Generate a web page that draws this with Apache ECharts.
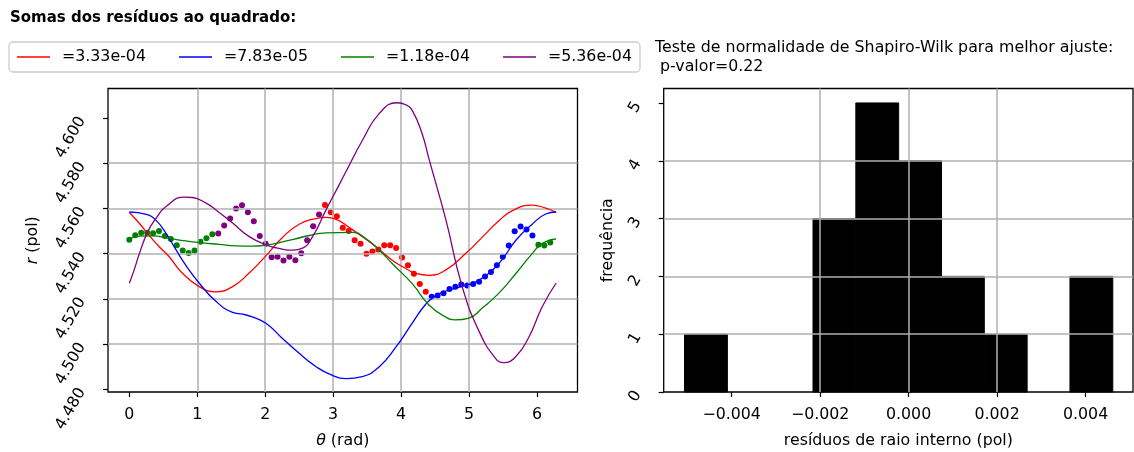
<!DOCTYPE html>
<html><head><meta charset="utf-8">
<script src="https://cdn.jsdelivr.net/npm/echarts@6/dist/echarts.min.js"></script>
<style>html,body{margin:0;padding:0;background:#fff}#c{width:1134px;height:452px}</style>
</head><body><div id="c"></div><script>
// ---------- data ----------
const legendNames = ['=3.33e-04', '=7.83e-05', '=1.18e-04', '=5.36e-04'];

// fitted curves: angle (rad) and radius (pol)
const redTheta = [0, 0.15, 0.29, 0.44, 0.59, 0.76, 1.03, 1.27, 1.52, 1.76, 2.01, 2.25, 2.5, 2.75, 2.89, 3.0, 3.24, 3.63, 3.87, 4.07, 4.22, 4.41, 4.66, 4.95, 5.2, 5.44, 5.64, 5.93, 6.13, 6.2832];
const redR = [4.5582, 4.5533, 4.5481, 4.5430, 4.5385, 4.5320, 4.5254, 4.5231, 4.5254, 4.5313, 4.5390, 4.5470, 4.5530, 4.5555, 4.5560, 4.5556, 4.5515, 4.5430, 4.5371, 4.5334, 4.5312, 4.5304, 4.5328, 4.5400, 4.5474, 4.5545, 4.5590, 4.5614, 4.5601, 4.5582];
const blueTheta = [0, 0.25, 0.39, 0.54, 0.69, 0.83, 1.03, 1.27, 1.52, 1.67, 1.81, 2.01, 2.25, 2.5, 2.75, 2.94, 3.19, 3.43, 3.68, 3.92, 4.17, 4.36, 4.5, 4.71, 4.95, 5.15, 5.44, 5.69, 5.93, 6.13, 6.2832];
const blueR = [4.5584, 4.5573, 4.5548, 4.5489, 4.5415, 4.5349, 4.5269, 4.5190, 4.5140, 4.5132, 4.5120, 4.5092, 4.5026, 4.4959, 4.4900, 4.4868, 4.4847, 4.4856, 4.4900, 4.4985, 4.5095, 4.5175, 4.5212, 4.5239, 4.5260, 4.5283, 4.5356, 4.5459, 4.5530, 4.5575, 4.5584];
const greenTheta = [0, 0.15, 0.34, 0.59, 0.83, 1.08, 1.32, 1.57, 1.81, 2.06, 2.21, 2.4, 2.65, 2.89, 3.28, 3.48, 3.68, 3.87, 4.17, 4.41, 4.66, 4.8, 5.0, 5.2, 5.44, 5.69, 5.93, 6.08, 6.2832];
const greenR = [4.5465, 4.5477, 4.5478, 4.5467, 4.5456, 4.5447, 4.5441, 4.5434, 4.5433, 4.5440, 4.5449, 4.5462, 4.5480, 4.5492, 4.5494, 4.5467, 4.5415, 4.5356, 4.5265, 4.5173, 4.5119, 4.5107, 4.5115, 4.5160, 4.5225, 4.5312, 4.5400, 4.5445, 4.5465];
const purpleTheta = [0, 0.07, 0.15, 0.27, 0.39, 0.54, 0.81, 0.93, 1.13, 1.27, 1.52, 1.76, 2.01, 2.25, 2.4, 2.55, 2.7, 2.89, 3.09, 3.19, 3.43, 3.68, 3.94, 4.07, 4.17, 4.31, 4.41, 4.66, 4.9, 5.15, 5.39, 5.51, 5.69, 5.88, 6.08, 6.2832];
const purpleR = [4.5269, 4.5327, 4.5402, 4.5496, 4.5555, 4.5608, 4.5650, 4.5648, 4.5623, 4.5594, 4.5535, 4.5476, 4.5439, 4.5420, 4.5415, 4.5424, 4.5476, 4.5590, 4.5705, 4.5763, 4.5900, 4.6020, 4.6067, 4.6058, 4.6030, 4.5930, 4.5820, 4.5549, 4.5254, 4.5055, 4.4937, 4.4918, 4.4945, 4.5030, 4.5166, 4.5270];

// measured points (angle in degrees, radius in pol)
const greenPtsDeg = [0, 5, 10, 15, 20, 25, 30, 35, 40, 45, 50, 55, 60, 65, 70, 345, 350, 355];
const greenPtsR = [4.5461, 4.5481, 4.5492, 4.5492, 4.5490, 4.5500, 4.5478, 4.5464, 4.5437, 4.5414, 4.5403, 4.5414, 4.5452, 4.5468, 4.5486, 4.5439, 4.5436, 4.5449];
const purplePtsDeg = [75, 80, 85, 90, 95, 100, 105, 110, 115, 120, 125, 130, 135, 140, 145, 150, 155, 160];
const purplePtsR = [4.5489, 4.5524, 4.5555, 4.5599, 4.5614, 4.5583, 4.5543, 4.5478, 4.5444, 4.5384, 4.5386, 4.5369, 4.5386, 4.5371, 4.5401, 4.5459, 4.5521, 4.5573];
const redPtsDeg = [165, 170, 175, 180, 185, 190, 195, 200, 205, 210, 215, 220, 225, 230, 235, 240, 245, 250];
const redPtsR = [4.5615, 4.5583, 4.5565, 4.5514, 4.5500, 4.5459, 4.5444, 4.5399, 4.5409, 4.5418, 4.5437, 4.5437, 4.5425, 4.5383, 4.5348, 4.5311, 4.5266, 4.5231];
const bluePtsDeg = [255, 260, 265, 270, 275, 280, 285, 290, 295, 300, 305, 310, 315, 320, 325, 330, 335, 340];
const bluePtsR = [4.5209, 4.5215, 4.5225, 4.5243, 4.5253, 4.5263, 4.5259, 4.5266, 4.5275, 4.5299, 4.5319, 4.5349, 4.5386, 4.5436, 4.5499, 4.5520, 4.5506, 4.5480];

// histogram of residuals
const binEdges = [-0.005065, -0.004097, -0.003129, -0.002161, -0.001193, -0.000225, 0.000743, 0.001711, 0.002679, 0.003647, 0.004615];
const binCounts = [1, 0, 0, 3, 5, 4, 2, 1, 0, 2];

const thetaTicks = [0, 1, 2, 3, 4, 5, 6];
const rTicks = [4.48, 4.50, 4.52, 4.54, 4.56, 4.58, 4.60];
const resTicks = [-0.004, -0.002, 0, 0.002, 0.004];
const freqTicks = [0, 1, 2, 3, 4, 5];

// ---------- chart ----------
const FONT = 'DejaVu Sans';
const FS = 15.8;
const GRID_C = '#b0b0b0';
const chart = echarts.init(document.getElementById('c'), null, {renderer: 'canvas'});

const pairs = (xs, ys) => xs.map((x, i) => [x, ys[i]]);
const ptsData = (deg, r) => deg.map((d, i) => [d * Math.PI / 180, r[i]]);

function lineSeries(name, th, r, color) {
  return {
    name, type: 'line', xAxisIndex: 0, yAxisIndex: 0, data: pairs(th, r),
    smooth: 0.5, symbol: 'none', zlevel: 2, z: 4,
    lineStyle: {color, width: 1.3}, itemStyle: {color}
  };
}
function scatterSeries(deg, r, color) {
  return {
    type: 'scatter', xAxisIndex: 0, yAxisIndex: 0, data: ptsData(deg, r),
    symbolSize: 6, zlevel: 0, z: 1, itemStyle: {color, opacity: 1}, silent: true
  };
}
const baseLabel = {color: '#000', fontFamily: FONT, fontSize: FS};
const tickStyle = {show: true, length: 5, lineStyle: {color: '#000', width: 1.2}};
const splitStyle = {show: true, showMinLine: false, showMaxLine: false, lineStyle: {color: GRID_C, width: 1.5}};
const noLine = {show: false, onZero: false};

const option = {
  animation: false,
  backgroundColor: '#fff',
  textStyle: {fontFamily: FONT},
  title: [
    {text: 'Somas dos resíduos ao quadrado:', left: 10, top: 11, padding: 0,
     textStyle: {fontFamily: FONT, fontSize: 15, fontWeight: 'bold', color: '#000'}},
    {text: 'Teste de normalidade de Shapiro-Wilk para melhor ajuste:\n p-valor=0.22', left: 655, top: 38, padding: 0,
     textStyle: {fontFamily: FONT, fontSize: FS, fontWeight: 'normal', color: '#000', lineHeight: 19}}
  ],
  legend: {
    data: legendNames, left: 9, top: 42, orient: 'horizontal', icon: 'rect',
    padding: [6, 8, 6, 8], itemWidth: 33, itemHeight: 1.6, itemGap: 33,
    borderColor: '#cccccc', borderWidth: 1.3, borderRadius: 4, backgroundColor: '#fff',
    textStyle: {fontFamily: FONT, fontSize: FS, color: '#000', width: 84, padding: [0, 0, 0, 7], lineHeight: 18},
    selectedMode: false
  },
  grid: [
    {left: 108, top: 88.5, width: 469.5, height: 303.5, outerBoundsMode: 'none', containLabel: false,
     show: true, borderColor: '#000', borderWidth: 1.3, backgroundColor: 'transparent'},
    {left: 663.7, top: 88.5, width: 469.3, height: 303.5, outerBoundsMode: 'none', containLabel: false,
     show: true, borderColor: '#000', borderWidth: 1.3, backgroundColor: 'transparent'}
  ],
  xAxis: [
    {gridIndex: 0, type: 'value', min: -0.31416, max: 6.59734, splitNumber: 7, zlevel: 1, z: 2,
     axisLine: noLine, axisTick: Object.assign({customValues: thetaTicks}, tickStyle),
     axisLabel: Object.assign({customValues: thetaTicks, margin: 15, formatter: v => String(Math.round(v))}, baseLabel),
     splitLine: splitStyle,
     name: '{i|θ} (rad)', nameLocation: 'middle', nameGap: 41,
     nameTextStyle: {fontFamily: FONT, fontSize: FS, color: '#000', rich: {i: {fontStyle: 'italic', fontFamily: FONT, fontSize: FS, color: '#000'}}}},
    {gridIndex: 1, type: 'value', min: -0.005536, max: 0.005072, splitNumber: 5, zlevel: 1, z: 2,
     axisLine: noLine, axisTick: Object.assign({customValues: resTicks}, tickStyle),
     axisLabel: Object.assign({customValues: resTicks, margin: 15,
       formatter: v => (v < -1e-9 ? '\u2212' : '') + Math.abs(v).toFixed(3)}, baseLabel),
     splitLine: splitStyle,
     name: 'resíduos de raio interno (pol)', nameLocation: 'middle', nameGap: 41,
     nameTextStyle: {fontFamily: FONT, fontSize: FS, color: '#000'}}
  ],
  yAxis: [
    {gridIndex: 0, type: 'value', min: 4.4788, max: 4.6130, splitNumber: 7, zlevel: 1, z: 2,
     axisLine: noLine, axisTick: Object.assign({customValues: rTicks}, tickStyle),
     axisLabel: Object.assign({customValues: rTicks, margin: 26, rotate: 60, formatter: v => v.toFixed(3)}, baseLabel),
     splitLine: splitStyle,
     name: '{i|r} (pol)', nameLocation: 'middle', nameGap: 67, nameRotate: 90,
     nameTextStyle: {fontFamily: FONT, fontSize: FS, color: '#000', rich: {i: {fontStyle: 'italic', fontFamily: FONT, fontSize: FS, color: '#000'}}}},
    {gridIndex: 1, type: 'value', min: 0, max: 5.25, interval: 1, zlevel: 1, z: 2,
     axisLine: noLine, axisTick: Object.assign({customValues: freqTicks}, tickStyle),
     axisLabel: Object.assign({customValues: freqTicks, margin: 26, rotate: 60, formatter: v => String(Math.round(v))}, baseLabel),
     splitLine: splitStyle,
     name: 'frequência', nameLocation: 'middle', nameGap: 48, nameRotate: 90,
     nameTextStyle: {fontFamily: FONT, fontSize: FS, color: '#000'}}
  ],
  series: [
    scatterSeries(greenPtsDeg, greenPtsR, '#008000'),
    scatterSeries(purplePtsDeg, purplePtsR, '#800080'),
    scatterSeries(redPtsDeg, redPtsR, '#ff0000'),
    scatterSeries(bluePtsDeg, bluePtsR, '#0000ff'),
    lineSeries(legendNames[0], redTheta, redR, '#ff0000'),
    lineSeries(legendNames[1], blueTheta, blueR, '#0000ff'),
    lineSeries(legendNames[2], greenTheta, greenR, '#008000'),
    lineSeries(legendNames[3], purpleTheta, purpleR, '#800080'),
    {
      type: 'custom', xAxisIndex: 1, yAxisIndex: 1, zlevel: 0, z: 1, silent: true,
      data: binCounts.map((c, i) => [binEdges[i], binEdges[i + 1], c]),
      encode: {x: [0, 1], y: 2},
      renderItem: function (params, api) {
        if (!(api.value(2) > 0)) return null;
        const p0 = api.coord([api.value(0), api.value(2)]);
        const p1 = api.coord([api.value(1), 0]);
        return {type: 'rect', shape: {x: p0[0], y: p0[1], width: p1[0] - p0[0], height: p1[1] - p0[1]},
                style: {fill: '#000', stroke: '#000', lineWidth: 1}};
      }
    }
  ]
};
chart.setOption(option);
</script></body></html>
